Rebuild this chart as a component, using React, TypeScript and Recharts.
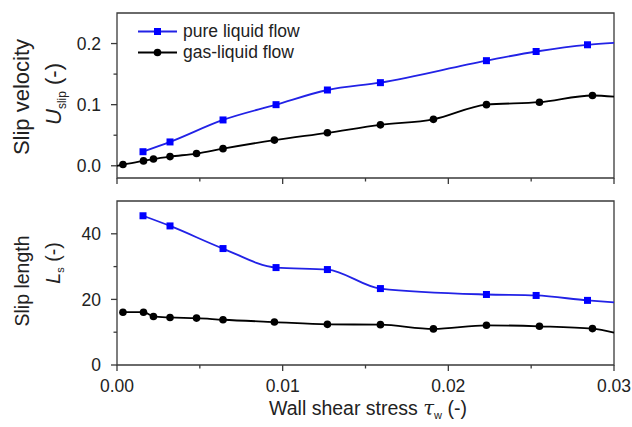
import { ComposedChart, Legend, Line, ReferenceArea, XAxis, YAxis } from 'recharts'

// wall shear stress positions of the markers
const xPure = [0.00157, 0.0032, 0.0064, 0.0096, 0.0127, 0.0159, 0.0223, 0.0253, 0.0284]
const xGas = [
  0.00036, 0.0016, 0.0022, 0.0032, 0.0048, 0.0064, 0.0095, 0.0127, 0.0159, 0.0191,
  0.0223, 0.0255, 0.0287,
]

// slip velocity U_slip
const pureSlip = [0.023, 0.039, 0.075, 0.1, 0.124, 0.136, 0.172, 0.187, 0.198]
const gasSlip = [0.002, 0.008, 0.011, 0.015, 0.02, 0.028, 0.042, 0.054, 0.067, 0.076, 0.1, 0.104, 0.115]

// slip length L_s
const pureLength = [45.5, 42.4, 35.5, 29.7, 29.1, 23.3, 21.5, 21.2, 19.7]
const gasLength = [16.1, 16.1, 14.8, 14.5, 14.3, 13.8, 13.1, 12.4, 12.3, 11.0, 12.1, 11.8, 11.1]

// fitted curves run on past the markers to the frame edges
const curveStartX = 0
const curveEndX = 0.03
const gasSlipStart = 0.0
const pureSlipEnd = 0.201
const gasSlipEnd = 0.113
const pureLengthEnd = 19.1
const gasLengthEnd = 9.9

const xTicks = [0, 0.005, 0.01, 0.015, 0.02, 0.025, 0.03]
const xMajor = [0, 0.01, 0.02, 0.03]
const slipTicks = [0, 0.05, 0.1, 0.15, 0.2]
const slipMajor = [0, 0.1, 0.2]
const lengthTicks = [0, 10, 20, 30, 40]
const lengthMajor = [0, 20, 40]

const seriesNames = ['pure liquid flow', 'gas-liquid flow']

const BLUE = '#0000ff'
const BLUE_LINE = '#2222e6'
const BLACK = '#000000'
const FRAME = '#3a3a3a'
const TEXT = '#222222'
const FONT = '"Liberation Sans", Arial, sans-serif'

interface Pt {
  x: number
  y: number
  marker: boolean
}

const toPoints = (
  xs: number[],
  ys: number[],
  start: number | null,
  end: number | null
): Pt[] => {
  const pts: Pt[] = xs.map((x, i) => ({ x, y: ys[i], marker: true }))
  if (start !== null) pts.unshift({ x: curveStartX, y: start, marker: false })
  if (end !== null) pts.push({ x: curveEndX, y: end, marker: false })
  return pts
}

const pureSlipPts = toPoints(xPure, pureSlip, null, pureSlipEnd)
const gasSlipPts = toPoints(xGas, gasSlip, gasSlipStart, gasSlipEnd)
const pureLengthPts = toPoints(xPure, pureLength, null, pureLengthEnd)
const gasLengthPts = toPoints(xGas, gasLength, null, gasLengthEnd)

const isIn = (list: number[], v: number) => list.some((m) => Math.abs(m - v) < 1e-9)

const squareDot = (p: any) =>
  p.payload.marker ? (
    <rect key={p.index} x={p.cx - 3.5} y={p.cy - 3.5} width={7} height={7} fill={BLUE} />
  ) : (
    <g key={p.index} />
  )

const circleDot = (p: any) =>
  p.payload.marker ? (
    <circle key={p.index} cx={p.cx} cy={p.cy} r={3.8} fill={BLACK} />
  ) : (
    <g key={p.index} />
  )

const XTick = (props: any) => {
  const { x, y, payload, showLabel } = props
  const major = isIn(xMajor, payload.value)
  return (
    <g>
      <line x1={x} x2={x} y1={y} y2={y + (major ? 6 : 3.5)} stroke={FRAME} strokeWidth={1.3} />
      {showLabel && major && (
        <text x={x} y={y + 27} textAnchor="middle" fill={TEXT} fontSize={17.5} fontFamily={FONT}>
          {payload.value.toFixed(2)}
        </text>
      )}
    </g>
  )
}

const YTick = (props: any) => {
  const { x, y, payload, majors, digits } = props
  const major = isIn(majors, payload.value)
  return (
    <g>
      <line x1={x - (major ? 6 : 3.5)} x2={x} y1={y} y2={y} stroke={FRAME} strokeWidth={1.3} />
      {major && (
        <text
          x={x - 16}
          y={y}
          dy="0.36em"
          textAnchor="end"
          fill={TEXT}
          fontSize={17.5}
          fontFamily={FONT}
        >
          {payload.value.toFixed(digits)}
        </text>
      )}
    </g>
  )
}

const SlipVelocityLabel = () => (
  <g fill={TEXT} fontFamily={FONT} fontSize={22}>
    <text transform="translate(29, 97) rotate(-90)" textAnchor="middle">
      Slip velocity
    </text>
    <text transform="translate(61, 94) rotate(-90)" textAnchor="middle">
      <tspan fontStyle="italic">U</tspan>
      <tspan fontSize={12} dy={5}>
        slip
      </tspan>
      <tspan dy={-5}> (-)</tspan>
    </text>
  </g>
)

const SlipLengthLabel = () => (
  <g fill={TEXT} fontFamily={FONT} fontSize={19.5}>
    <text transform="translate(29, 91) rotate(-90)" textAnchor="middle">
      Slip length
    </text>
    <text transform="translate(60, 73) rotate(-90)" textAnchor="middle">
      <tspan fontStyle="italic">L</tspan>
      <tspan fontSize={11} dy={4}>
        s
      </tspan>
      <tspan dy={-4}> (-)</tspan>
    </text>
  </g>
)

const ShearLabel = () => (
  <text x={368} y={225} textAnchor="middle" fill={TEXT} fontFamily={FONT} fontSize={19.5}>
    Wall shear stress{' '}
    <tspan fontStyle="italic" fontFamily="'DejaVu Serif', serif">
      τ
    </tspan>
    <tspan fontSize={11} dy={4}>
      w
    </tspan>
    <tspan dy={-4}> (-)</tspan>
  </text>
)

const LegendBox = () => (
  <div style={{ fontFamily: FONT, fontSize: 17.5, color: TEXT, lineHeight: '21px' }}>
    {seriesNames.map((name, i) => (
      <div key={name} style={{ display: 'flex', alignItems: 'center', height: 21 }}>
        <svg width={42} height={21}>
          <line x1={1} x2={40} y1={10.5} y2={10.5} stroke={i === 0 ? BLUE_LINE : BLACK} strokeWidth={1.8} />
          {i === 0 ? (
            <rect x={17} y={7} width={7} height={7} fill={BLUE} />
          ) : (
            <circle cx={20.5} cy={10.5} r={3.8} fill={BLACK} />
          )}
        </svg>
        <span style={{ marginLeft: 4 }}>{name}</span>
      </div>
    ))}
  </div>
)

export default function App() {
  return (
    <div style={{ position: 'absolute', left: 0, top: 0, width: 632, height: 427, background: '#fff' }}>
      <ComposedChart width={632} height={190} margin={{ top: 13, right: 18, left: 0, bottom: 0 }}>
        <XAxis
          type="number"
          dataKey="x"
          domain={[0, 0.03]}
          ticks={xTicks}
          interval={0}
          axisLine={false}
          tickLine={false}
          tickSize={0}
          tickMargin={0}
          height={12}
          tick={<XTick showLabel={false} />}
        />
        <YAxis
          type="number"
          dataKey="y"
          domain={[-0.02, 0.25]}
          ticks={slipTicks}
          interval={0}
          axisLine={false}
          tickLine={false}
          tickSize={0}
          tickMargin={0}
          width={117}
          tick={<YTick majors={slipMajor} digits={1} />}
          label={() => <SlipVelocityLabel />}
        />
        <ReferenceArea x1={0} x2={0.03} y1={-0.02} y2={0.25} fill="none" stroke={FRAME} strokeWidth={1.3} />
        <Legend
          layout="vertical"
          align="center"
          verticalAlign="middle"
          wrapperStyle={{ left: 137, top: 21, width: 'auto' }}
          content={() => <LegendBox />}
        />
        <Line
          data={pureSlipPts}
          dataKey="y"
          type="monotone"
          stroke={BLUE_LINE}
          strokeWidth={1.8}
          dot={squareDot}
          activeDot={false}
          isAnimationActive={false}
        />
        <Line
          data={gasSlipPts}
          dataKey="y"
          type="monotone"
          stroke={BLACK}
          strokeWidth={1.8}
          dot={circleDot}
          activeDot={false}
          isAnimationActive={false}
        />
      </ComposedChart>
      <ComposedChart width={632} height={237} margin={{ top: 11, right: 18, left: 0, bottom: 0 }}>
        <XAxis
          type="number"
          dataKey="x"
          domain={[0, 0.03]}
          ticks={xTicks}
          interval={0}
          axisLine={false}
          tickLine={false}
          tickSize={0}
          tickMargin={0}
          height={62}
          tick={<XTick showLabel />}
          label={() => <ShearLabel />}
        />
        <YAxis
          type="number"
          dataKey="y"
          domain={[0, 50]}
          ticks={lengthTicks}
          interval={0}
          axisLine={false}
          tickLine={false}
          tickSize={0}
          tickMargin={0}
          width={117}
          tick={<YTick majors={lengthMajor} digits={0} />}
          label={() => <SlipLengthLabel />}
        />
        <ReferenceArea x1={0} x2={0.03} y1={0} y2={50} fill="none" stroke={FRAME} strokeWidth={1.3} />
        <Line
          data={pureLengthPts}
          dataKey="y"
          type="monotone"
          stroke={BLUE_LINE}
          strokeWidth={1.8}
          dot={squareDot}
          activeDot={false}
          isAnimationActive={false}
        />
        <Line
          data={gasLengthPts}
          dataKey="y"
          type="monotone"
          stroke={BLACK}
          strokeWidth={1.8}
          dot={circleDot}
          activeDot={false}
          isAnimationActive={false}
        />
      </ComposedChart>
    </div>
  )
}
